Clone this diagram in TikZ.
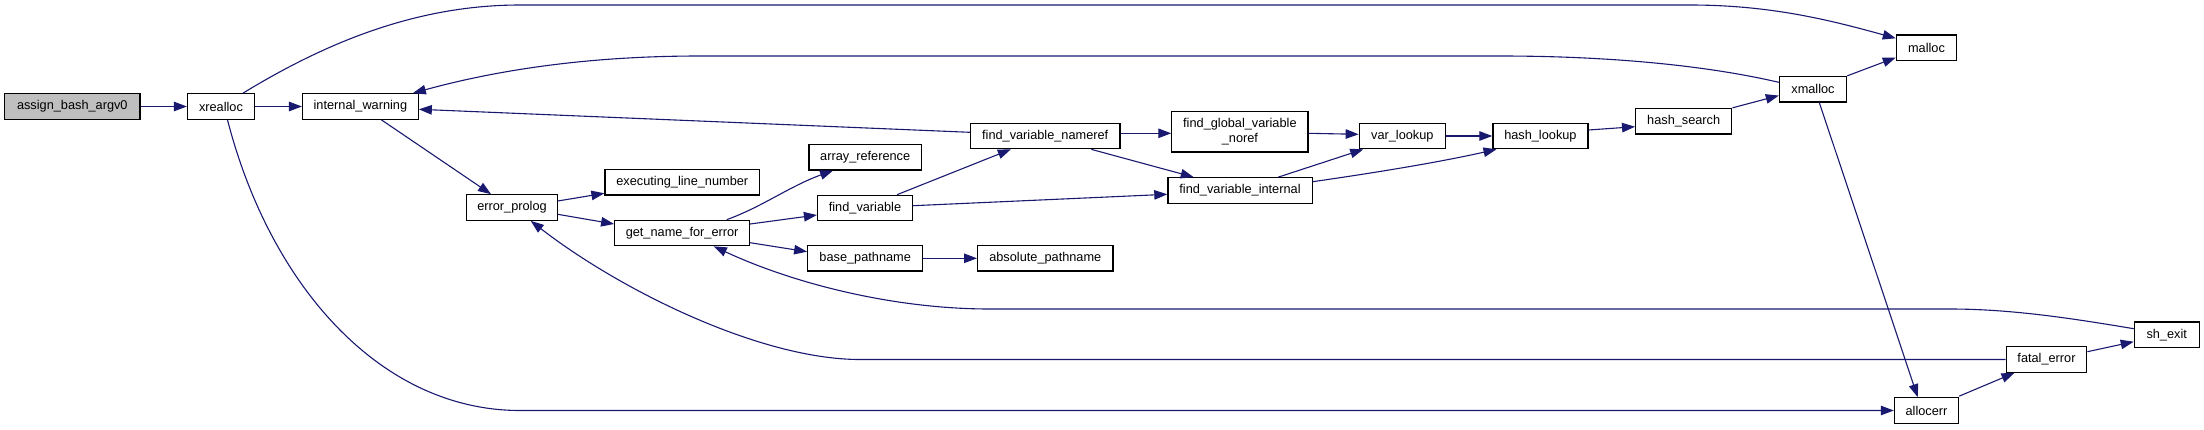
\documentclass[tikz,border=0pt]{standalone}
\usepackage{fontspec}
\setmainfont{Liberation Sans}
\usetikzlibrary{arrows.meta,calc}
\definecolor{edgeblue}{HTML}{191970}
\definecolor{startgray}{HTML}{BFBFBF}
\tikzset{
  fn/.style={draw=black, line width=1.2pt, fill=white, inner sep=0pt,
    minimum height=25.5pt, align=center,
    font=\fontsize{12.75}{15.6}\selectfont},
  call/.style={draw=edgeblue, line width=1.1pt,
    -{Triangle[length=13pt,width=9.5pt]}},
}
\begin{document}
\begin{tikzpicture}[x=1pt,y=-1pt]
\useasboundingbox (0,0) rectangle (2204,429);
% nodes
\node[fn, fill=startgray, minimum width=135.4pt] (assign) at (72.3,106.5) {assign\_bash\_argv0};
\node[fn, minimum width=67.1pt] (xrealloc) at (221,106.5) {xrealloc};
\node[fn, minimum width=115.7pt] (iw) at (360.4,106.5) {internal\_warning};
\node[fn, minimum width=90.3pt] (ep) at (512,207.5) {error\_prolog};
\node[fn, minimum width=154.6pt] (eln) at (682.3,182.3) {executing\_line\_number};
\node[fn, minimum width=134.8pt] (gnfe) at (682.1,233) {get\_name\_for\_error};
\node[fn, minimum width=112.5pt] (aref) at (865.2,157.2) {array\_reference};
\node[fn, minimum width=95pt] (fv) at (865,208) {find\_variable};
\node[fn, minimum width=115pt] (bp) at (865.2,258.3) {base\_pathname};
\node[fn, minimum width=135.4pt] (ap) at (1045.3,258.3) {absolute\_pathname};
\node[fn, minimum width=149.6pt] (fvn) at (1045.2,136) {find\_variable\_nameref};
\node[fn, minimum width=136.1pt, minimum height=40.3pt] (fgvn) at (1239.9,131.8) {find\_global\_variable\\\_noref};
\node[fn, minimum width=144.2pt] (fvi) at (1240,190.5) {find\_variable\_internal};
\node[fn, minimum width=86.1pt] (vl) at (1402.3,136) {var\_lookup};
\node[fn, minimum width=95pt] (hl) at (1540.4,136) {hash\_lookup};
\node[fn, minimum width=96.2pt] (hs) at (1683.7,121.2) {hash\_search};
\node[fn, minimum width=67.2pt] (xm) at (1813,89.2) {xmalloc};
\node[fn, minimum width=60.3pt] (malloc) at (1926.5,47.7) {malloc};
\node[fn, minimum width=64.8pt] (shexit) at (2166.7,334.7) {sh\_exit};
\node[fn, minimum width=80.5pt] (fe) at (2046.5,359.5) {fatal\_error};
\node[fn, minimum width=64.2pt] (ae) at (1926.5,410.5) {allocerr};
% edges
\draw[call] (assign.east) -- (xrealloc.west);
\draw[call] (xrealloc.east) -- (iw.west);
\draw[call] ($(xrealloc.north)+(22,0)$) .. controls (330,40) and (420,5) .. (520,5)
  -- (1690,5) .. controls (1770,5) and (1830,20) .. ($(malloc.west)+(0,-9.4)$);
\draw[call] ($(xrealloc.south)+(6.5,0)$) .. controls (270,285) and (380,410.5) .. (520,410.5)
  -- (ae.west);
\draw[call] ($(iw.south)+(21,0)$) -- ($(ep.north)+(-21,0)$);
\draw[call] ($(fvn.west)+(0,-3.7)$) -- ($(iw.east)+(0,2.8)$);
\draw[call] ($(xm.west)+(0,-6.9)$) .. controls (1700,64) and (1600,56) .. (1500,56)
  -- (700,56) .. controls (580,56) and (490,72) .. ($(iw.north east)+(-6,0)$);
\draw[call] (xm.north east) -- ($(malloc.south west)+(0,-3.5)$);
\draw[call] ($(xm.south)+(6.3,0)$) -- ($(ae.north)+(-8.8,0)$);
\draw[call] (hs.north east) -- ($(xm.south west)+(0,-7)$);
\draw[call] ($(hl.east)+(0,-6)$) -- ($(hs.west)+(0,5.5)$);
\draw[call] (vl.east) -- (hl.west);
\draw[call] ($(fvi.north)+(38.2,0)$) -- ($(vl.south west)+(4.6,0)$);
\draw[call] ($(fvi.east)+(0,-8.8)$) .. controls (1380,172) and (1440,162) .. ($(hl.south west)+(4.2,0)$);
\draw[call] ($(fgvn.east)+(0,1.5)$) -- ($(vl.west)+(0,-1.7)$);
\draw[call] ($(fvn.east)+(0,-2.7)$) -- ($(fgvn.west)+(0,1.5)$);
\draw[call] ($(fvn.south east)+(-29.3,0)$) -- ($(fvi.north west)+(26.4,0)$);
\draw[call] ($(fv.north)+(32.1,0)$) -- ($(fvn.south west)+(41,0)$);
\draw[call] ($(fv.east)+(0,-2.3)$) -- ($(fvi.west)+(0,3.8)$);
\draw[call] ($(gnfe.north)+(44.6,0)$) .. controls (762,207) and (790,186) .. ($(aref.south west)+(24.7,0)$);
\draw[call] ($(gnfe.east)+(0,-9)$) -- ($(fv.west)+(0,7)$);
\draw[call] ($(gnfe.east)+(0,9.7)$) -- ($(bp.west)+(0,-6.6)$);
\draw[call] (bp.east) -- (ap.west);
\draw[call] ($(ep.east)+(0,-6.5)$) -- ($(eln.west)+(0,11)$);
\draw[call] ($(ep.east)+(0,6.8)$) -- ($(gnfe.west)+(0,-9)$);
\draw[call] ($(shexit.west)+(0,-6)$) .. controls (2070,318) and (2010,309) .. (1950,309)
  -- (990,309) .. controls (890,309) and (790,282) .. ($(gnfe.south east)+(-36.3,0)$);
\draw[call] (fe.west) -- (860,359.5) .. controls (760,359.5) and (620,290) .. ($(ep.south east)+(-27,0)$);
\draw[call] ($(fe.east)+(0,-7.8)$) -- ($(shexit.west)+(0,7)$);
\draw[call] ($(ae.north east)+(0,-1)$) -- ($(fe.south west)+(8.8,0)$);
\end{tikzpicture}
\end{document}
